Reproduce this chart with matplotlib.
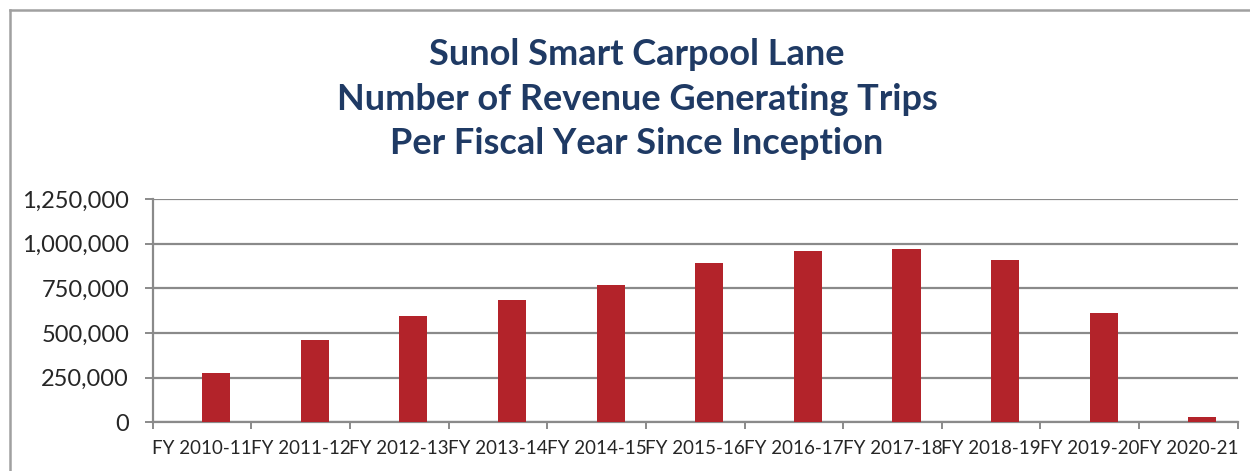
import matplotlib
matplotlib.use('Agg')
import matplotlib.pyplot as plt
from matplotlib.lines import Line2D
from matplotlib.ticker import FuncFormatter, FixedLocator

plt.rcParams['font.family'] = ['Lato', 'DejaVu Sans']

# data
fiscal_years = ['FY 2010-11', 'FY 2011-12', 'FY 2012-13', 'FY 2013-14', 'FY 2014-15',
                'FY 2015-16', 'FY 2016-17', 'FY 2017-18', 'FY 2018-19', 'FY 2019-20',
                'FY 2020-21']
trips = [275000, 463000, 597000, 683000, 771000,
         892000, 961000, 969000, 909000, 612000, 32000]
y_ticks = [0, 250000, 500000, 750000, 1000000, 1250000]

title_lines = ['Sunol Smart Carpool Lane',
               'Number of Revenue Generating Trips',
               'Per Fiscal Year Since Inception']

bar_color = '#B3232A'
title_color = '#1F3A64'
grid_color = '#8A8A8A'
text_color = '#262626'

fig = plt.figure(figsize=(12.5, 4.71), dpi=100)
ax = fig.add_axes([152.7 / 1250, 48.7 / 471, 1085 / 1250, 223.3 / 471])

x = list(range(len(fiscal_years)))
# bars start at the category centre, as in the original Excel chart
ax.bar(x, trips, width=0.285, align='edge', color=bar_color, zorder=3)

ax.set_xlim(-0.5, len(fiscal_years) - 0.5)
ax.set_ylim(0, 1250000)

ax.set_yticks(y_ticks)
ax.yaxis.set_major_formatter(FuncFormatter(lambda v, p: f'{int(v):,}'))
ax.yaxis.grid(True, color=grid_color, linewidth=1.6, zorder=0)
ax.tick_params(axis='y', length=6, width=1.4, color=grid_color, pad=11,
               labelsize=17, labelcolor=text_color)

# labels at category centres, tick marks at category boundaries
ax.set_xticks(x)
ax.set_xticklabels(fiscal_years)
ax.tick_params(axis='x', which='major', length=0, pad=13, labelsize=13.5,
               labelcolor=text_color)
ax.xaxis.set_minor_locator(FixedLocator([i - 0.5 for i in range(len(fiscal_years) + 1)]))
ax.tick_params(axis='x', which='minor', length=5, width=1.4, color=grid_color)

for side in ['top', 'right']:
    ax.spines[side].set_visible(False)
for side in ['left', 'bottom']:
    ax.spines[side].set_color(grid_color)
    ax.spines[side].set_linewidth(1.6)

fig.text(637 / 1250, 1 - 99 / 471, '\n'.join(title_lines), ha='center', va='center',
         fontsize=26, fontweight='bold', color=title_color, linespacing=1.42)

# chart frame (top and left edges visible in the reference)
fig.add_artist(Line2D([9.5 / 1250, 9.5 / 1250], [0, 1 - 10 / 471],
                      transform=fig.transFigure, color='#A0A0A0', linewidth=1.8))
fig.add_artist(Line2D([9.5 / 1250, 1], [1 - 10 / 471, 1 - 10 / 471],
                      transform=fig.transFigure, color='#A0A0A0', linewidth=1.8))

fig.savefig('out.png', dpi=100)
